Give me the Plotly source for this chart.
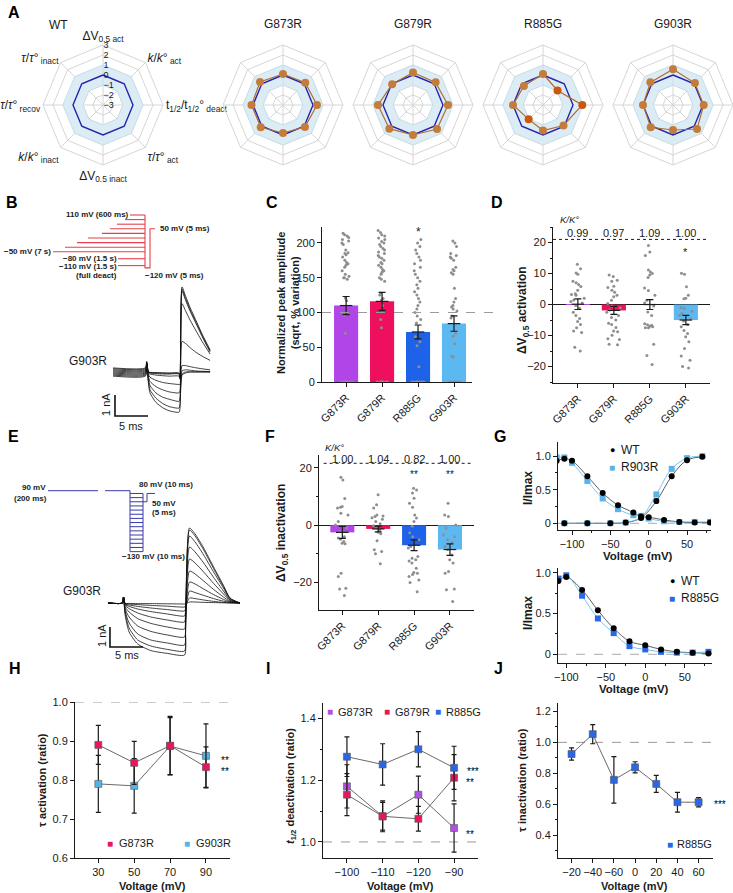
import plotly.graph_objects as go

W, H = 733, 893
FONT = "Liberation Sans, Arial, Helvetica, sans-serif"
INK = "#1a1a1a"

# ======================= DATA =======================
# Panel A (radar, values in units of the radial scale -3..3, WT = 0)
radar_labels = ["ΔV<sub>0.5 act</sub>", "<i>k</i>/<i>k</i>°<sub> act</sub>",
                "t<sub>1/2</sub>/t<sub>1/2</sub>°<sub> deact</sub>", "<i>τ</i>/<i>τ</i>°<sub> act</sub>",
                "ΔV<sub>0.5 inact</sub>", "<i>k</i>/<i>k</i>°<sub> inact</sub>",
                "<i>τ</i>/<i>τ</i>°<sub> recov</sub>", "<i>τ</i>/<i>τ</i>°<sub> inact</sub>"]
radar_ticks = [-3, -2, -1, 0, 1, 2, 3]
radar_wt = [0, 0, 0, 0, 0, 0, 0, 0]
radar_band = [-1, 1]
mut_names = ["G873R", "G879R", "R885G", "G903R"]
radar_g873r = [0.10, 0.15, 0.40, 0.10, -0.20, 0.15, 0.15, 0.25]
radar_g879r = [0.25, 0.20, 0.50, 0.40, 0.00, 0.35, 0.50, -0.05]
radar_r885g = [0.10, -0.95, 0.93, -0.10, -0.45, -0.97, 0.00, -0.30]
radar_g903r = [0.57, 0.10, 0.07, 0.40, -0.50, 0.15, 0.00, 0.20]
radar_r885g_sig = [False, True, True, False, False, True, False, False]

# Panel B protocol (mV) and currents (nA vs ms)
b_levels = [110, 90, 70, 50, 30, 10, -10, -30, -50, -80, -110]
b_pre_start = [130, 125, 117, 110, 102, 88, 77, 65, 53, 118, 118]   # schematic start of each prepulse
b_step_v = [-120, 50]
b_t = [0, 4.9, 5.1, 5.35, 5.6, 6.5, 7.5, 8.5, 10.0, 10.15, 10.45, 11.0, 11.7, 12.5, 13.5, 14.7]
b_currents = [
    [0.19, 0.19, 0.50, 0.00, -0.02, -0.03, -0.04, -0.05, -0.05, -0.25, 4.05, 3.60, 3.05, 2.50, 1.80, 1.05],
    [0.15, 0.15, 0.48, 0.00, -0.03, -0.05, -0.06, -0.07, -0.08, -0.28, 3.95, 3.50, 2.95, 2.42, 1.74, 1.00],
    [0.10, 0.10, 0.45, -0.02, -0.05, -0.08, -0.10, -0.10, -0.10, -0.30, 3.85, 3.40, 2.88, 2.35, 1.68, 0.95],
    [0.05, 0.05, 0.42, -0.05, -0.10, -0.15, -0.18, -0.20, -0.20, -0.35, 3.25, 2.90, 2.45, 2.00, 1.45, 0.85],
    [0.00, 0.00, 0.40, -0.10, -0.25, -0.40, -0.50, -0.55, -0.60, -0.60, 1.45, 1.35, 1.15, 0.95, 0.75, 0.55],
    [-0.05, -0.05, 0.38, -0.20, -0.45, -0.70, -0.85, -0.95, -1.00, -0.90, 0.30, 0.30, 0.25, 0.20, 0.15, 0.10],
    [-0.10, -0.10, 0.35, -0.30, -0.65, -1.00, -1.20, -1.30, -1.40, -1.20, 0.05, 0.10, 0.08, 0.05, 0.03, 0.02],
    [-0.15, -0.15, 0.33, -0.40, -0.85, -1.25, -1.50, -1.65, -1.72, -1.50, -0.10, 0.00, 0.00, 0.00, 0.00, 0.00],
    [-0.20, -0.20, 0.30, -0.50, -1.00, -1.45, -1.70, -1.85, -1.92, -1.70, -0.15, -0.05, 0.00, 0.00, 0.00, 0.00],
]
scale_ms = 5
scale_na = 1

# Panel C
c_means = [110, 116, 72, 84]
c_errs = [13, 13, 10, 11]
c_pts = [
    [214, 212, 210, 208, 205, 203, 200, 198, 190, 186, 185, 183, 180, 175, 172, 170, 168, 165, 160, 155,
     152, 150, 150, 148, 121, 117, 96, 70, 0, 0, 0, 0, 0, 0, 0, 0],
    [218, 215, 212, 210, 207, 205, 202, 200, 198, 195, 192, 190, 187, 185, 182, 180, 178, 175, 172, 170,
     168, 165, 162, 160, 158, 155, 150, 148, 145, 128, 125, 120, 118, 110, 90, 78, 0, 0, 0, 0, 0, 0, 0, 0],
    [205, 200, 195, 190, 185, 180, 175, 170, 165, 160, 155, 150, 145, 140, 135, 130, 125, 120, 115, 110,
     105, 100, 95, 90, 85, 65, 58, 52, 22, 0, 0, 0, 0, 0, 0, 0, 0, 0, 0],
    [203, 200, 195, 185, 182, 180, 178, 175, 165, 162, 160, 157, 155, 135, 120, 115, 110, 108, 105, 102,
     95, 92, 70, 66, 55, 37, 36, 0, 0, 0, 0, 0, 0, 0, 0],
]
c_ref = 100
c_star = ["", "", "*", ""]

# Panel D
d_means = [0.1, -1.9, 0.0, -5.0]
d_errs = [1.7, 1.3, 1.6, 1.5]
d_pts = [
    [13, 11.5, 10.2, 9.8, 7.5, 7, 6.5, 5.8, 4.6, 3.5, 3.2, 3, 2, 1.5, 1, 0.5, -0.3, -1.2, -2.5, -3.5,
     -4.5, -5.5, -6.4, -7.5, -8.5, -9, -13.8, -15],
    [9.5, 9, 7.8, 7.5, 5.9, 5.5, 4.6, 4, 3, 2.5, 1.4, 0.3, -0.5, -1, -1.8, -2.5, -3.5, -4.2, -5, -6,
     -6.4, -7.4, -8.5, -8.8, -9.9, -11, -11.3, -12.8, -13],
    [19, 16.9, 15.8, 11.1, 10.5, 10, 9.5, 8.7, 5.3, 4.5, 3, 1.4, 0.5, -0.5, -2.4, -3.5, -6.2, -6.5, -6.7,
     -7, -7.2, -7.5, -7.5, -12.8, -16.4, -19.3],
    [10.1, 9.8, 5.7, 3, 2, 1.9, -1, -1.3, -2.2, -2.9, -3.5, -4.5, -5.3, -6.4, -7.2, -8.4, -9.3, -10.4,
     -12, -14.2, -16.6, -18, -20, -20.5],
]
d_kratio = ["0.99", "0.97", "1.09", "1.00"]
d_kstar = ["", "", "**", ""]
d_vstar = ["", "", "", "*"]

# Panel E protocol (mV) and currents
e_pre_v = 90
e_family = [80, 65, 50, 35, 20, 5, -10, -25, -40, -55, -70, -85, -100, -115, -130]
e_post_v = [50, 80]
e_t = [0, 2.2, 2.35, 2.6, 3.2, 4.5, 6.5, 9.0, 11.6, 11.75, 12.35, 13.2, 14.5, 16.0, 17.5, 18.5, 20.0]
e_currents = [
    [0, 0, 0.3, -0.02, -0.02, -0.03, -0.03, -0.04, -0.05, -0.05, 0.05, 0.05, 0.03, 0.02, 0.01, 0, 0],
    [0, 0, 0.3, -0.03, -0.05, -0.08, -0.12, -0.16, -0.20, -0.15, 0.25, 0.22, 0.15, 0.08, 0.03, 0.01, 0],
    [0, 0, 0.3, -0.05, -0.10, -0.17, -0.25, -0.33, -0.40, -0.30, 0.60, 0.52, 0.38, 0.22, 0.09, 0.03, 0],
    [0, 0, 0.3, -0.08, -0.17, -0.30, -0.43, -0.55, -0.65, -0.45, 1.05, 0.95, 0.70, 0.42, 0.18, 0.05, 0],
    [0, 0, 0.3, -0.12, -0.28, -0.50, -0.70, -0.85, -0.95, -0.60, 1.60, 1.45, 1.10, 0.68, 0.30, 0.08, 0],
    [0, 0, 0.3, -0.20, -0.45, -0.78, -1.02, -1.20, -1.30, -0.80, 2.20, 2.00, 1.55, 0.98, 0.45, 0.12, 0],
    [0, 0, 0.3, -0.30, -0.70, -1.15, -1.42, -1.60, -1.70, -1.00, 2.80, 2.55, 2.00, 1.28, 0.60, 0.15, 0],
    [0, 0, 0.3, -0.40, -1.00, -1.55, -1.85, -2.00, -2.10, -1.20, 3.35, 3.05, 2.40, 1.55, 0.75, 0.20, 0],
    [0, 0, 0.3, -0.50, -1.25, -1.85, -2.15, -2.32, -2.40, -1.40, 3.65, 3.35, 2.65, 1.72, 0.82, 0.22, 0],
    [0, 0, 0.3, -0.60, -1.45, -2.05, -2.38, -2.52, -2.60, -1.50, 3.75, 3.45, 2.75, 1.80, 0.88, 0.25, 0],
]

# Panel F
f_means = [-2.5, -1.3, -7.0, -8.5]
f_errs = [2.1, 1.0, 1.9, 2.0]
f_pts = [
    [16.7, 15.8, 9.3, 6.5, 6.3, 6, 4.2, 3.6, 1.3, 0.1, -1, -2.2, -4, -4.5, -4.9, -5.7, -6.3, -6.5, -16.8,
     -17.9, -22, -22.3, -24.5],
    [10.6, 7.1, 6, 3.6, 3.2, 3, 2.6, 2.1, 1.3, 0.5, -0.2, -1, -1.6, -2.5, -3, -5.4, -8.6, -9.2, -10, -13.5],
    [12.9, 12.3, 11.2, 9.4, 7.7, 6.3, 3.6, 2.5, 1.3, -0.4, -2.6, -4, -5.1, -7.4, -8, -10.9, -11.5, -12.1,
     -12.5, -13.2, -15, -16.5, -16.8, -17.2, -17.9, -19.1, -20, -23.2],
    [7.7, 3.6, 3, 0.1, -1, -3.4, -4, -5.1, -6, -7.4, -8.5, -10.4, -12.1, -13.2, -16.2, -16.8, -22.3,
     -22.5, -26.6],
]
f_kratio = ["1.00", "1.04", "0.82", "1.00"]
f_kstar = ["", "", "***", ""]
f_vstar = ["", "", "**", "**"]

# Panel G (top: WT vs mutant activation & inactivation; bottom: inactivation)
g_act_v = [-110, -80, -50, -30, -10, 10, 30, 50, 70]
g_act_wt = [0.0, 0.0, 0.0, 0.01, 0.08, 0.33, 0.70, 0.94, 0.99]
g_act_wt_err = [0, 0, 0, 0, 0, 0.03, 0.02, 0.01, 0.01]
g_act_mut = [0.0, 0.0, 0.0, 0.01, 0.09, 0.43, 0.81, 0.97, 1.0]
g_inact_v = [-120, -110, -100, -80, -60, -40, -20, -10, 0, 20, 40, 60, 80]
g_inact_wt = [0.93, 0.96, 0.93, 0.70, 0.45, 0.27, 0.16, 0.10, 0.09, 0.05, 0.02, 0.01, 0.01]
g_inact_mut = [0.98, 0.98, 0.90, 0.63, 0.37, 0.21, 0.12, 0.11, 0.07, 0.03, 0.02, 0.02, 0.02]
g2_v = [-110, -100, -80, -60, -40, -20, 0, 20, 40, 60, 80]
g2_wt = [0.90, 0.95, 0.79, 0.54, 0.32, 0.16, 0.11, 0.06, 0.03, 0.02, 0.01]
g2_mut = [0.93, 0.97, 0.72, 0.44, 0.26, 0.10, 0.06, 0.03, 0.02, 0.02, 0.03]
g_yticks = [0, 0.5, 1.0]
g_yticktext = ["0", "0.5", "1.0"]

# Panel H
h_v = [30, 50, 70, 90]
h_g873r = [0.890, 0.844, 0.888, 0.833]
h_g873r_err = [0.050, 0.055, 0.075, 0.052]
h_g903r = [0.790, 0.785, 0.887, 0.862]
h_g903r_err = [0.073, 0.070, 0.073, 0.082]

# Panel I
i_v = ["−100", "−110", "−120", "−90"]
i_g873r = [1.180, 1.083, 1.153, 1.045]
i_g873r_err = [0.070, 0.050, 0.060, 0.078]
i_g879r = [1.153, 1.083, 1.075, 1.208]
i_g879r_err = [0.068, 0.045, 0.040, 0.075]
i_r885g = [1.276, 1.251, 1.300, 1.240]
i_r885g_err = [0.064, 0.067, 0.057, 0.070]

# Panel J
j_v = ["−20", "−40", "−60", "0", "20", "40", "60"]
j_r885g = [0.925, 1.053, 0.758, 0.839, 0.732, 0.614, 0.614]
j_r885g_err = [0.040, 0.062, 0.150, 0.036, 0.055, 0.064, 0.030]

# colours
COL = {"G873R": "#b245e8", "G879R": "#ef0f5f", "R885G": "#1f62ea", "G903R": "#5cb8f0"}
bar_colors = [COL[n] for n in mut_names]
RADAR_DOT = "#c47c3a"
RADAR_DOT_SIG = "#c9580f"
RADAR_LINE = "#b06c34"
WT_LINE = "#2323b0"


# ======================= HELPERS =======================
def dom_x(x0, x1):
    return [x0 / W, x1 / W]


def dom_y(y0, y1):
    return [1 - y1 / H, 1 - y0 / H]


def T(x, y, text, size=11, bold=False, color=INK, xanchor="center", yanchor="middle", angle=0):
    if bold:
        text = "<b>" + text + "</b>"
    return dict(xref="paper", yref="paper", x=x / W, y=1 - y / H, text=text, showarrow=False,
                font=dict(size=size, color=color, family=FONT), xanchor=xanchor, yanchor=yanchor,
                textangle=angle, borderpad=0)


def axis(domain, rng, **kw):
    d = dict(domain=domain, range=rng, showgrid=False, zeroline=False, showline=True, linecolor=INK,
             linewidth=1, ticks="outside", ticklen=4, tickwidth=1, tickcolor=INK,
             tickfont=dict(size=11, color=INK, family=FONT), fixedrange=True)
    d.update(kw)
    return d


def hidden(domain, rng):
    return dict(domain=domain, range=rng, visible=False, fixedrange=True)


fig = go.Figure()
ann = []
shapes = []

# ======================= A: radars =======================
# radial axis runs from the lowest tick (centre) outwards; plotted radius = value - lowest tick
r0 = radar_ticks[0]


def rr(vals):
    return [v - r0 for v in vals]


closed = radar_labels + [radar_labels[0]]
band_theta = closed + closed[::-1]
band_r = rr([radar_band[1]] * 9 + [radar_band[0]] * 9)
radar_sets = [("WT", None), ("G873R", radar_g873r), ("G879R", radar_g879r),
              ("R885G", radar_r885g), ("G903R", radar_g903r)]
cxs = [103, 283, 413, 543, 673]
cy = 105
R = 60
for i, (name, vals) in enumerate(radar_sets):
    sp = "polar" if i == 0 else "polar%d" % (i + 1)
    fig.add_trace(go.Scatterpolar(r=band_r, theta=band_theta, mode="lines", fill="toself",
                                  fillcolor="#dcecf5", line=dict(color="#c2deeb", width=0.8),
                                  subplot=sp, showlegend=False, hoverinfo="skip"))
    fig.add_trace(go.Scatterpolar(r=rr(radar_wt + [radar_wt[0]]), theta=closed, mode="lines",
                                  line=dict(color=WT_LINE, width=1.4), subplot=sp, showlegend=False))
    if vals is not None:
        if name == "R885G":
            mc = [RADAR_DOT_SIG if s else RADAR_DOT for s in radar_r885g_sig]
        else:
            mc = [RADAR_DOT] * 8
        fig.add_trace(go.Scatterpolar(r=rr(vals + [vals[0]]), theta=closed, mode="lines",
                                      line=dict(color=RADAR_LINE, width=1.2),
                                      subplot=sp, showlegend=False, hoverinfo="skip"))
        fig.add_trace(go.Scatterpolar(r=rr(vals), theta=radar_labels, mode="markers",
                                      marker=dict(size=8, color=mc, opacity=1),
                                      cliponaxis=False, subplot=sp, showlegend=False))
    c = cxs[i]
    fig.layout[sp] = dict(
        domain=dict(x=dom_x(c - R, c + R), y=dom_y(cy - R, cy + R)),
        gridshape="linear", bgcolor="rgba(0,0,0,0)",
        radialaxis=dict(range=[0, radar_ticks[-1] - r0], tickvals=rr(radar_ticks),
                        ticktext=[str(t).replace("-", "−") for t in radar_ticks],
                        showline=False, showgrid=True,
                        gridcolor="#d6d6d6", gridwidth=0.8, ticks="", showticklabels=(i == 0),
                        angle=90, tickangle=90, side="clockwise",
                        tickfont=dict(size=9, color=INK, family=FONT)),
        angularaxis=dict(type="category", categoryarray=radar_labels, rotation=90,
                         direction="clockwise", showgrid=True, gridcolor="#d6d6d6",
                         showline=True, linecolor="#d6d6d6", ticks="", showticklabels=(i == 0),
                         tickfont=dict(size=12, color=INK, family=FONT)),
    )
    if i == 0:
        ann.append(T(58, 25, "WT", size=12))
    else:
        ann.append(T(c, 24, name, size=12))

# ======================= B =======================
xs, ys = [], []
for lv, st in zip(b_levels, b_pre_start):
    xs += [st, 145, None]
    ys += [lv, lv, None]
xs += [145, 145, 150, 150, 155]
ys += [b_levels[0], b_step_v[0], b_step_v[0], b_step_v[1], b_step_v[1]]
fig.add_trace(go.Scatter(x=xs, y=ys, mode="lines", line=dict(color="#e5404a", width=1.1),
                         xaxis="x", yaxis="y", showlegend=False, hoverinfo="skip"))
fig.layout.xaxis = hidden(dom_x(0, 250), [0, 250])
fig.layout.yaxis = hidden(dom_y(205, 280), [-172.6, 153.5])
ann += [T(130, 215, "110 mV (600 ms)", size=8, bold=True, xanchor="right"),
        T(52, 252, "−50 mV (7 s)", size=8, bold=True, xanchor="right"),
        T(118, 258, "−80 mV (1.5 s)", size=8, bold=True, xanchor="right"),
        T(118, 266, "−110 mV (1.5 s)", size=8, bold=True, xanchor="right"),
        T(118, 275, "(full deact)", size=8, bold=True, xanchor="right"),
        T(159, 229, "50 mV (5 ms)", size=8, bold=True, xanchor="left"),
        T(144, 275, "−120 mV (5 ms)", size=8, bold=True, xanchor="left")]

for cur in b_currents:
    fig.add_trace(go.Scatter(x=b_t, y=cur, mode="lines", line=dict(color="#111", width=0.8, shape="spline",
                                                                     smoothing=0.6),
                             xaxis="x2", yaxis="y2", showlegend=False, hoverinfo="skip"))
fig.add_trace(go.Scatter(x=[0.3, 0.3, 0.3 + scale_ms], y=[-1.1, -1.1 - scale_na, -1.1 - scale_na],
                         mode="lines", line=dict(color="#111", width=1.6), xaxis="x2", yaxis="y2",
                         showlegend=False, hoverinfo="skip"))
fig.layout.xaxis2 = hidden(dom_x(100, 220), [-1.97, 16.2])
fig.layout.yaxis2 = hidden(dom_y(280, 420), [-2.29, 4.38])
ann += [T(88, 361, "G903R", size=12), T(131, 426, "%d ms" % scale_ms, size=11),
        T(106, 405, "%d nA" % scale_na, size=11, angle=-90)]


# ======================= bar panels C, D, F =======================
def bar_panel(n, means, errs, pts):
    fig.add_trace(go.Bar(x=mut_names, y=means, marker=dict(color=bar_colors, line=dict(width=0)),
                         width=0.67, xaxis="x%d" % n, yaxis="y%d" % n, showlegend=False))
    for name, p in zip(mut_names, pts):
        fig.add_trace(go.Box(x=[name] * len(p), y=p, boxpoints="all", jitter=0.75, pointpos=0, width=0.55,
                             fillcolor="rgba(0,0,0,0)", line=dict(width=0, color="rgba(0,0,0,0)"),
                             marker=dict(size=3, color="#8e8e8e"), xaxis="x%d" % n, yaxis="y%d" % n,
                             showlegend=False, hoverinfo="skip"))
    fig.add_trace(go.Scatter(x=mut_names, y=means, mode="markers",
                             marker=dict(symbol="line-ew", size=9, color=INK, line=dict(width=1.2, color=INK)),
                             error_y=dict(type="data", array=errs, color=INK, thickness=1.2, width=3.5),
                             xaxis="x%d" % n, yaxis="y%d" % n, showlegend=False))


bar_panel(3, c_means, c_errs, c_pts)
fig.layout.xaxis3 = axis(dom_x(322, 472), [-0.67, 3.5], type="category", categoryarray=mut_names,
                         tickangle=-45, anchor="y3")
fig.layout.yaxis3 = axis(dom_y(227, 382), [0, 223], tickvals=[0, 50, 100, 150, 200], anchor="x3")
shapes.append(dict(type="line", xref="paper", yref="y3", x0=322 / W, x1=500 / W, y0=c_ref, y1=c_ref,
                   line=dict(color="#9a9a9a", width=1, dash="dash")))
for name, s in zip(mut_names, c_star):
    if s:
        ann.append(dict(xref="x3", yref="y3", x=name, y=216, text=s, showarrow=False,
                        font=dict(size=12, color=INK, family=FONT)))
ann.append(T(288, 303, "Normalized peak amplitude<br>(sqrt, % variation)", size=11, bold=True, angle=-90))

bar_panel(4, d_means, d_errs, d_pts)
fig.layout.xaxis4 = axis(dom_x(553, 710), [-0.69, 3.67], type="category", categoryarray=mut_names,
                         tickangle=-45, anchor="y4")
fig.layout.yaxis4 = axis(dom_y(227, 383), [-25.3, 25], dtick=10, tick0=0, zeroline=True, zerolinecolor=INK,
                         zerolinewidth=1, anchor="x4",
                         minor=dict(dtick=5, tick0=0, ticks="outside", ticklen=2, tickcolor=INK))
shapes.append(dict(type="line", xref="x4 domain", yref="y4", x0=0, x1=0.98, y0=21, y1=21,
                   line=dict(color=INK, width=1, dash="dot")))
for name, kr, ks, vs in zip(mut_names, d_kratio, d_kstar, d_vstar):
    ann.append(dict(xref="x4", yref="y4", x=name, y=23.0, text=kr, showarrow=False,
                    font=dict(size=11, color=INK, family=FONT)))
    if ks:
        ann.append(dict(xref="x4", yref="y4", x=name, y=26.4, text=ks, showarrow=False,
                        font=dict(size=10, color=INK, family=FONT)))
    if vs:
        ann.append(dict(xref="x4", yref="y4", x=name, y=17.0, text=vs, showarrow=False,
                        font=dict(size=11, color=INK, family=FONT)))
ann.append(T(569, 220, "<i>K/K°</i>", size=9.5))
ann.append(T(523, 310, "ΔV<sub>0.5</sub> activation", size=12, bold=True, angle=-90))

# ======================= E =======================
xs, ys = [48, 98, None, 105, 130, 130, None], [e_pre_v, e_pre_v, None, e_pre_v, e_pre_v, e_family[-1], None]
for lv in e_family:
    xs += [130, 143, None]
    ys += [lv, lv, None]
xs += [143, 143, None, 143, 147, 147, 155]
ys += [e_family[0], e_family[-1], None, e_post_v[0], e_post_v[0], e_post_v[1], e_post_v[1]]
fig.add_trace(go.Scatter(x=xs, y=ys, mode="lines", line=dict(color="#3a3aa8", width=1.0),
                         xaxis="x5", yaxis="y5", showlegend=False, hoverinfo="skip"))
fig.layout.xaxis5 = hidden(dom_x(0, 250), [0, 250])
fig.layout.yaxis5 = hidden(dom_y(470, 570), [-196.3, 164.7])
ann += [T(47, 488, "90 mV", size=8, bold=True, xanchor="right"),
        T(48, 498, "(200 ms)", size=8, bold=True, xanchor="right"),
        T(138, 484, "80 mV (10 ms)", size=8, bold=True, xanchor="left"),
        T(151, 503, "50 mV", size=8, bold=True, xanchor="left"),
        T(151, 512, "(5 ms)", size=8, bold=True, xanchor="left"),
        T(121, 556, "−130 mV (10 ms)", size=8, bold=True, xanchor="left")]
for cur in e_currents:
    fig.add_trace(go.Scatter(x=e_t, y=cur, mode="lines", line=dict(color="#111", width=0.8, shape="spline",
                                                                     smoothing=0.6),
                             xaxis="x6", yaxis="y6", showlegend=False, hoverinfo="skip"))
fig.add_trace(go.Scatter(x=[0.3, 0.3, 0.3 + scale_ms], y=[-1.2, -1.2 - scale_na, -1.2 - scale_na],
                         mode="lines", line=dict(color="#111", width=1.6), xaxis="x6", yaxis="y6",
                         showlegend=False, hoverinfo="skip"))
fig.layout.xaxis6 = hidden(dom_x(100, 245), [-1.21, 20.76])
fig.layout.yaxis6 = hidden(dom_y(515, 670), [-3.35, 4.4])
ann += [T(82, 591, "G903R", size=12), T(127, 655, "%d ms" % scale_ms, size=11),
        T(102, 636, "%d nA" % scale_na, size=11, angle=-90)]

# ======================= F =======================
bar_panel(7, f_means, f_errs, f_pts)
fig.layout.xaxis7 = axis(dom_x(319, 474), [-0.65, 3.67], type="category", categoryarray=mut_names,
                         tickangle=-45, anchor="y7")
fig.layout.yaxis7 = axis(dom_y(455, 610), [-29.6, 24.5], dtick=20, tick0=0, zeroline=True, zerolinecolor=INK,
                         zerolinewidth=1, anchor="x7",
                         minor=dict(dtick=10, tick0=0, ticks="outside", ticklen=2, tickcolor=INK))
shapes.append(dict(type="line", xref="x7 domain", yref="y7", x0=0.03, x1=0.98, y0=21.6, y1=21.6,
                   line=dict(color=INK, width=1, dash="dot")))
for name, kr, ks, vs in zip(mut_names, f_kratio, f_kstar, f_vstar):
    ann.append(dict(xref="x7", yref="y7", x=name, y=23.2, text=kr, showarrow=False,
                    font=dict(size=11, color=INK, family=FONT)))
    if ks:
        ann.append(dict(xref="x7", yref="y7", x=name, y=27.4, text=ks, showarrow=False,
                        font=dict(size=10, color=INK, family=FONT)))
    if vs:
        ann.append(dict(xref="x7", yref="y7", x=name, y=17.8, text=vs, showarrow=False,
                        font=dict(size=10, color=INK, family=FONT)))
ann.append(T(334, 447, "<i>K/K°</i>", size=9.5))
ann.append(T(282, 533, "ΔV<sub>0.5</sub> inactivation", size=12, bold=True, angle=-90))

# ======================= G =======================
LB = "#5ab4e8"
for xv, yv, col in [(g_act_v, g_act_wt, "#333"), (g_inact_v, g_inact_wt, "#333"),
                    (g_act_v, g_act_mut, LB), (g_inact_v, g_inact_mut, LB)]:
    fig.add_trace(go.Scatter(x=xv, y=yv, mode="lines", line=dict(color=col, width=0.8, shape="spline",
                                                                   smoothing=1.0),
                             xaxis="x8", yaxis="y8", showlegend=False, hoverinfo="skip"))
fig.add_trace(go.Scatter(x=g_act_v + g_inact_v, y=g_act_mut + g_inact_mut, mode="markers",
                         marker=dict(symbol="square", size=6, color=LB), xaxis="x8", yaxis="y8",
                         showlegend=False))
fig.add_trace(go.Scatter(x=g_act_v, y=g_act_wt, mode="markers",
                         marker=dict(symbol="circle", size=6, color="#000"),
                         error_y=dict(type="data", array=g_act_wt_err, color="#000", thickness=1, width=2),
                         xaxis="x8", yaxis="y8", showlegend=False))
fig.add_trace(go.Scatter(x=g_inact_v, y=g_inact_wt, mode="markers",
                         marker=dict(symbol="circle", size=6, color="#000"), xaxis="x8", yaxis="y8",
                         showlegend=False))
fig.layout.xaxis8 = axis(dom_x(558, 711), [-118.3, 81.3], tickvals=[-100, -50, 0, 50], anchor="y8",
                         minor=dict(dtick=25, tick0=0, ticks="outside", ticklen=2, tickcolor=INK))
fig.layout.yaxis8 = axis(dom_y(442, 530), [-0.1, 1.21], tickvals=g_yticks, ticktext=g_yticktext, anchor="x8",
                         minor=dict(dtick=0.25, tick0=0, ticks="outside", ticklen=2, tickcolor=INK))
shapes.append(dict(type="line", xref="x8 domain", yref="y8", x0=0, x1=1, y0=0, y1=0,
                   line=dict(color="#aaaaaa", width=1, dash="dash"), layer="below"))
ann += [T(612, 450, "●", size=9, color="#000"), T(620, 450, "WT", size=12, xanchor="left"),
        T(612, 467, "■", size=10, color=LB), T(620, 467, "R903R", size=12, xanchor="left"),
        T(528, 488, "I/Imax", size=12, bold=True, angle=-90),
        T(638, 556, "Voltage (mV)", size=11.5, bold=True)]

BL = "#2a66e6"
for yv, col in [(g2_wt, "#333"), (g2_mut, LB)]:
    fig.add_trace(go.Scatter(x=g2_v, y=yv, mode="lines", line=dict(color=col, width=0.8, shape="spline",
                                                                    smoothing=1.0),
                             xaxis="x9", yaxis="y9", showlegend=False, hoverinfo="skip"))
fig.add_trace(go.Scatter(x=g2_v, y=g2_mut, mode="markers", marker=dict(symbol="square", size=6, color=BL),
                         xaxis="x9", yaxis="y9", showlegend=False))
fig.add_trace(go.Scatter(x=g2_v, y=g2_wt, mode="markers", marker=dict(symbol="circle", size=6, color="#000"),
                         xaxis="x9", yaxis="y9", showlegend=False))
fig.layout.xaxis9 = axis(dom_x(558, 712), [-110.5, 84.5], tickvals=[-100, -50, 0, 50], anchor="y9",
                         minor=dict(dtick=25, tick0=0, ticks="outside", ticklen=2, tickcolor=INK))
fig.layout.yaxis9 = axis(dom_y(568, 663), [-0.107, 1.06], tickvals=g_yticks, ticktext=g_yticktext,
                         anchor="x9",
                         minor=dict(dtick=0.25, tick0=0, ticks="outside", ticklen=2, tickcolor=INK))
shapes.append(dict(type="line", xref="x9 domain", yref="y9", x0=0, x1=1, y0=0, y1=0,
                   line=dict(color="#aaaaaa", width=1, dash="dash"), layer="below"))
ann += [T(672, 581, "●", size=9, color="#000"), T(680, 581, "WT", size=12, xanchor="left"),
        T(672, 598, "■", size=10, color=BL), T(680, 598, "R885G", size=12, xanchor="left"),
        T(528, 613, "I/Imax", size=12, bold=True, angle=-90),
        T(634, 689, "Voltage (mV)", size=11.5, bold=True)]


# ======================= H, I, J =======================
def series(n, x, y, err, color):
    fig.add_trace(go.Scatter(x=x, y=y, mode="lines+markers", line=dict(color="#444", width=0.8),
                             marker=dict(symbol="square", size=7, color=color, line=dict(width=0.6, color="#555")),
                             error_y=dict(type="data", array=err, color=INK, thickness=1.2, width=2.5),
                             xaxis="x%d" % n, yaxis="y%d" % n, showlegend=False))


series(10, h_v, h_g903r, h_g903r_err, "#56b4e4")
series(10, h_v, h_g873r, h_g873r_err, "#e8175d")
fig.layout.xaxis10 = axis(dom_x(75, 230), [17, 103.4], tickvals=h_v, anchor="y10")
fig.layout.yaxis10 = axis(dom_y(702, 858), [0.6, 1.0], tickvals=[0.6, 0.7, 0.8, 0.9, 1.0], tickformat=".1f",
                          anchor="x10")
shapes.append(dict(type="line", xref="x10 domain", yref="y10", x0=0, x1=1, y0=1.0, y1=1.0,
                   line=dict(color="#9a9a9a", width=1, dash="dash"), layer="below"))
ann += [T(225, 760, "**", size=10, color="#000"), T(225, 771.5, "**", size=10, color="#000"),
        T(110, 843, "■", size=10, color="#e8175d"), T(118, 843, "G873R", size=11, xanchor="left"),
        T(187, 843, "■", size=10, color="#56b4e4"), T(195, 843, "G903R", size=11, xanchor="left"),
        T(42, 780, "τ activation (ratio)", size=11, bold=True, angle=-90),
        T(152, 886, "Voltage (mV)", size=11, bold=True)]

series(11, i_v, i_g873r, i_g873r_err, "#b24fe6")
series(11, i_v, i_g879r, i_g879r_err, "#e8175d")
series(11, i_v, i_r885g, i_r885g_err, BL)
fig.layout.xaxis11 = axis(dom_x(323, 478), [-0.67, 3.67], type="category", categoryarray=i_v, anchor="y11")
fig.layout.yaxis11 = axis(dom_y(703, 858), [0.948, 1.45], tickvals=[1.0, 1.2, 1.4], tickformat=".1f",
                          anchor="x11",
                          minor=dict(dtick=0.1, tick0=1.0, ticks="outside", ticklen=2, tickcolor=INK))
shapes.append(dict(type="line", xref="x11 domain", yref="y11", x0=0, x1=1, y0=1.0, y1=1.0,
                   line=dict(color="#9a9a9a", width=1, dash="dash"), layer="below"))
ann += [T(473, 771.5, "***", size=10, color="#000"), T(470, 782, "**", size=10, color="#000"),
        T(470, 834, "**", size=10, color="#000"),
        T(330, 711.5, "■", size=10, color="#b24fe6"), T(337, 711.5, "G873R", size=11, xanchor="left"),
        T(387, 711.5, "■", size=10, color="#e8175d"), T(394, 711.5, "G879R", size=11, xanchor="left"),
        T(438, 711.5, "■", size=10, color=BL), T(445, 711.5, "R885G", size=11, xanchor="left"),
        T(291, 786, "<i>t</i><sub>1/2</sub> deactivation (ratio)", size=11, bold=True, angle=-90),
        T(400, 886, "Voltage (mV)", size=11, bold=True)]

series(12, j_v, j_r885g, j_r885g_err, BL)
fig.layout.xaxis12 = axis(dom_x(558, 713), [-0.64, 6.68], type="category", categoryarray=j_v, anchor="y12")
fig.layout.yaxis12 = axis(dom_y(703, 858), [0.254, 1.254], tickvals=[0.4, 0.6, 0.8, 1.0, 1.2], tickformat=".1f",
                          anchor="x12",
                          minor=dict(dtick=0.1, tick0=0, ticks="outside", ticklen=2, tickcolor=INK))
shapes.append(dict(type="line", xref="x12 domain", yref="y12", x0=0, x1=1, y0=1.0, y1=1.0,
                   line=dict(color="#9a9a9a", width=1, dash="dash"), layer="below"))
ann += [T(720, 804, "***", size=10, color="#000"),
        T(670, 844, "■", size=10, color=BL), T(676, 844, "R885G", size=11, xanchor="left"),
        T(522, 780, "τ inactivation (ratio)", size=11, bold=True, angle=-90),
        T(634, 886, "Voltage (mV)", size=11, bold=True)]

# panel letters
for letter, x, y in [("A", 14, 12), ("B", 12, 203), ("C", 272, 203), ("D", 497, 203), ("E", 13, 437),
                     ("F", 270, 437), ("G", 500, 437), ("H", 15, 668), ("I", 268, 668), ("J", 498, 668)]:
    ann.append(T(x, y, letter, size=16, bold=True, color="#000"))

fig.update_layout(width=W, height=H, margin=dict(l=0, r=0, t=0, b=0), paper_bgcolor="white",
                  plot_bgcolor="rgba(0,0,0,0)", template="none", showlegend=False,
                  font=dict(family=FONT, size=11, color=INK), annotations=ann, shapes=shapes,
                  barmode="overlay", boxmode="overlay")
fig.write_html("out.html")
